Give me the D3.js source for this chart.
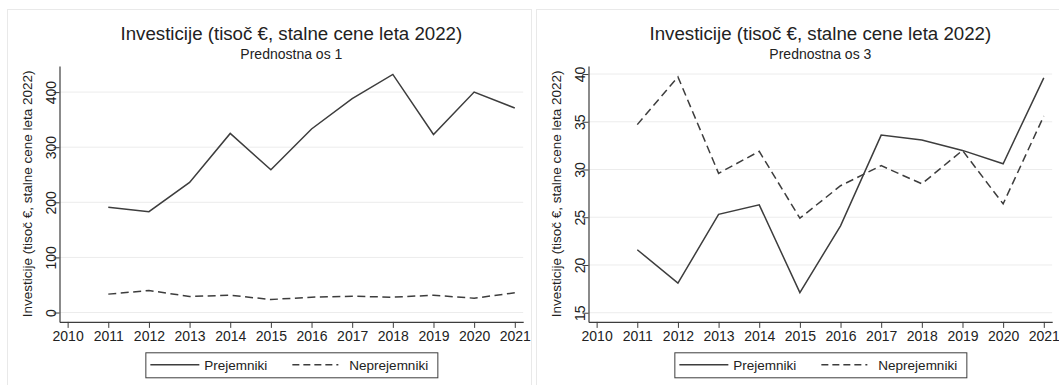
<!DOCTYPE html>
<html>
<head>
<meta charset="utf-8">
<script src="https://cdn.jsdelivr.net/npm/d3@7"></script>
<style>
  html, body { margin: 0; padding: 0; background: #fff; }
  svg { display: block; font-family: "Liberation Sans", Arial, Helvetica, sans-serif; }
</style>
</head>
<body>
<svg id="chart" width="1059" height="385"></svg>
<script>
// Years on the x axis
const years = [2011, 2012, 2013, 2014, 2015, 2016, 2017, 2018, 2019, 2020, 2021];
const xTicks = [2010, 2011, 2012, 2013, 2014, 2015, 2016, 2017, 2018, 2019, 2020, 2021];

// Prednostna os 1
const os1Prejemniki   = [191, 183, 236, 325, 259, 333, 388, 432, 323, 400, 371];
const os1Neprejemniki = [33.4, 40, 29, 31.4, 23.6, 27.8, 29.6, 27.8, 31.4, 26, 35.8];
const os1Ticks = [0, 100, 200, 300, 400];

// Prednostna os 3
const os3Prejemniki   = [21.6, 18.1, 25.3, 26.3, 17.1, 24.1, 33.6, 33.1, 32.0, 30.6, 39.6];
const os3Neprejemniki = [34.7, 39.7, 29.6, 31.9, 24.9, 28.3, 30.4, 28.5, 32.0, 26.4, 35.6];
const os3Ticks = [15, 20, 25, 30, 35, 40];

const titleText = "Investicije (tisoč €, stalne cene leta 2022)";
const yLabel = "Investicije (tisoč €, stalne cene leta 2022)";
const seriesNames = ["Prejemniki", "Neprejemniki"];

const panels = [
  { x0: 0,   subtitle: "Prednostna os 1", a: os1Prejemniki, b: os1Neprejemniki,
    ticks: os1Ticks, yDomain: [-17, 447.5] },
  { x0: 529, subtitle: "Prednostna os 3", a: os3Prejemniki, b: os3Neprejemniki,
    ticks: os3Ticks, yDomain: [14.04, 40.85] }
];

const svg = d3.select("#chart");
const ink = "#222";
const lineInk = "#3d3d3d";

// plot area geometry inside each panel
const plotL = 59.5, plotR = 523.2, plotT = 65.9, plotB = 321.9;

panels.forEach((p, i) => {
  const g = svg.append("g").attr("transform", `translate(${p.x0},0)`);

  // panel frame
  g.append("rect")
    .attr("x", 7.5).attr("y", 9.5)
    .attr("width", i === 0 ? 524 : 540).attr("height", 400)
    .attr("fill", "none").attr("stroke", "#e9e9e9");

  const x = d3.scaleLinear().domain([2009.8, 2021.207]).range([plotL, plotR]);
  const y = d3.scaleLinear().domain(p.yDomain).range([plotB, plotT]);

  // horizontal grid
  g.append("g").selectAll("line").data(p.ticks).join("line")
    .attr("x1", plotL).attr("x2", plotR)
    .attr("y1", d => y(d)).attr("y2", d => y(d))
    .attr("stroke", "#ececec").attr("stroke-width", 1);

  // x axis
  const xAxis = g.append("g").attr("transform", `translate(0,${plotB})`)
    .call(d3.axisBottom(x).tickValues(xTicks).tickFormat(d3.format("d"))
      .tickSize(6).tickSizeOuter(0).tickPadding(3));
  xAxis.select(".domain").attr("stroke", lineInk).attr("stroke-width", 1.2);
  xAxis.selectAll(".tick line").attr("stroke", lineInk);
  xAxis.selectAll(".tick text").attr("font-size", 14).attr("fill", ink)
    .attr("font-family", "Liberation Sans, Arial, sans-serif");

  // y axis with rotated tick labels
  const yAxis = g.append("g").attr("transform", `translate(${plotL},0)`)
    .call(d3.axisLeft(y).tickValues(p.ticks).tickFormat(d3.format("d"))
      .tickSize(6).tickSizeOuter(0).tickPadding(0));
  yAxis.select(".domain").attr("stroke", lineInk).attr("stroke-width", 1.2);
  yAxis.selectAll(".tick line").attr("stroke", lineInk);
  yAxis.selectAll(".tick text")
    .attr("font-size", 14).attr("fill", ink)
    .attr("font-family", "Liberation Sans, Arial, sans-serif")
    .attr("x", null).attr("dy", null)
    .attr("text-anchor", "middle")
    .attr("transform", "translate(-4,0) rotate(-90)");

  // y axis title
  g.append("text")
    .attr("transform", `translate(32,${(plotT + plotB) / 2}) rotate(-90)`)
    .attr("text-anchor", "middle").attr("font-size", 13.5).attr("fill", ink)
    .text(yLabel);

  // titles
  const cx = (plotL + plotR) / 2;
  g.append("text").attr("x", cx).attr("y", 40).attr("text-anchor", "middle")
    .attr("font-size", 18.7).attr("fill", ink).text(titleText);
  g.append("text").attr("x", cx).attr("y", 59).attr("text-anchor", "middle")
    .attr("font-size", 14).attr("fill", ink).text(p.subtitle);

  // series lines
  const line = d3.line().x((d, k) => x(years[k])).y(d => y(d));
  g.append("path").datum(p.a).attr("d", line)
    .attr("fill", "none").attr("stroke", lineInk).attr("stroke-width", 1.5)
    .attr("stroke-linejoin", "miter");
  g.append("path").datum(p.b).attr("d", line)
    .attr("fill", "none").attr("stroke", lineInk).attr("stroke-width", 1.5)
    .attr("stroke-dasharray", "8,4.5");

  // legend
  const lw = 292, lh = 25;
  const lx = cx - lw / 2, ly = 352.3;
  const lg = g.append("g").attr("transform", `translate(${lx},${ly})`);
  lg.append("rect").attr("x", 0.5).attr("y", 0.5).attr("width", lw).attr("height", lh)
    .attr("fill", "#fff").attr("stroke", lineInk).attr("stroke-width", 1);
  const items = [
    { dash: null, x1: 5, x2: 54, tx: 59 },
    { dash: "7,4", x1: 147, x2: 193, tx: 204 }
  ];
  items.forEach((it, k) => {
    lg.append("line").attr("x1", it.x1).attr("x2", it.x2)
      .attr("y1", 12.5).attr("y2", 12.5)
      .attr("stroke", lineInk).attr("stroke-width", 1.5)
      .attr("stroke-dasharray", it.dash);
    lg.append("text").attr("x", it.tx).attr("y", 17.5).attr("font-size", 13.5)
      .attr("fill", ink).text(seriesNames[k]);
  });
});
</script>
</body>
</html>
